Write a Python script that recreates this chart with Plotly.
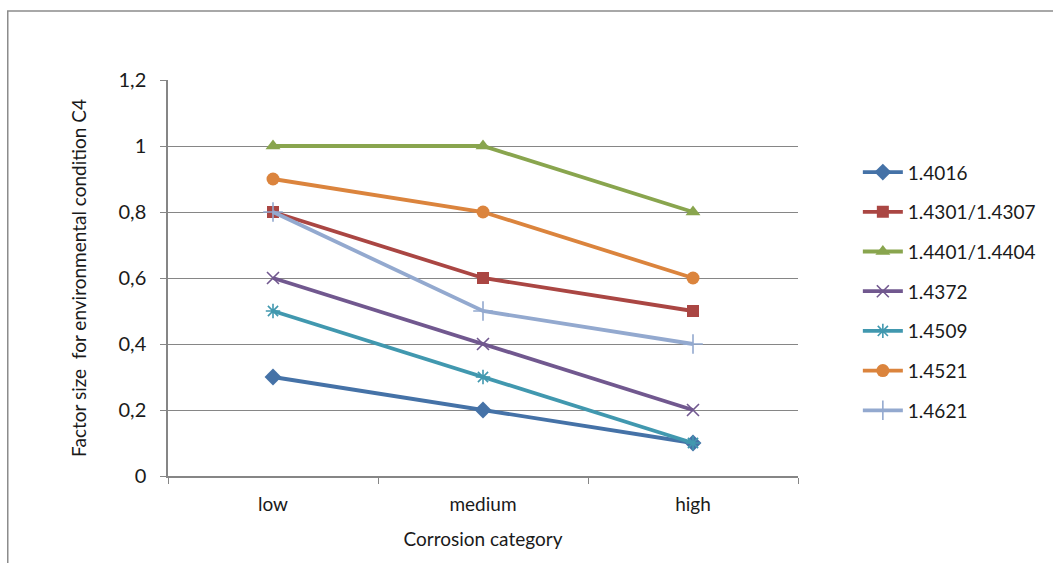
import plotly.graph_objects as go

categories = ["low", "medium", "high"]
series_names = ["1.4016", "1.4301/1.4307", "1.4401/1.4404", "1.4372", "1.4509", "1.4521", "1.4621"]
v_14016 = [0.3, 0.2, 0.1]
v_14301 = [0.8, 0.6, 0.5]
v_14401 = [1.0, 1.0, 0.8]
v_14372 = [0.6, 0.4, 0.2]
v_14509 = [0.5, 0.3, 0.1]
v_14521 = [0.9, 0.8, 0.6]
v_14621 = [0.8, 0.5, 0.4]
y_ticks = [0, 0.2, 0.4, 0.6, 0.8, 1.0, 1.2]
y_labels = ["0", "0,2", "0,4", "0,6", "0,8", "1", "1,2"]

values = [v_14016, v_14301, v_14401, v_14372, v_14509, v_14521, v_14621]
colors = ["#4572A7", "#AA4643", "#89A54E", "#71588F", "#4198AF", "#DB843D", "#93A9CF"]
markers = [
    dict(symbol="diamond", size=13),
    dict(symbol="square", size=12),
    dict(symbol="triangle-up", size=13),
    dict(symbol="x-thin-open", size=12, line=dict(width=1.6)),
    dict(symbol="asterisk-open", size=12, line=dict(width=1.6)),
    dict(symbol="circle", size=13),
    dict(symbol="cross-thin-open", size=14, line=dict(width=1.6)),
]

FONT = "Lato, 'Open Sans', sans-serif"
TXT = "#1a1a1a"

fig = go.Figure()
for name, vals, col, mk in zip(series_names, values, colors, markers):
    m = dict(mk, color=col)
    if "line" in m:
        m["line"] = dict(m["line"], color=col)
    fig.add_trace(go.Scatter(
        x=categories, y=vals, name=name, mode="lines+markers",
        line=dict(color=col, width=3.8), marker=m, legendgroup=name,
    ))

fig.update_layout(
    width=1053, height=563,
    margin=dict(l=168, r=252, t=80, b=87),
    plot_bgcolor="white", paper_bgcolor="white",
    font=dict(family=FONT, size=19, color=TXT),
    showlegend=True,
    legend=dict(
        x=1.095, xanchor="left", y=0.815, yanchor="top",
        font=dict(size=19, family=FONT, color=TXT),
        tracegroupgap=12, itemwidth=40, bgcolor="rgba(0,0,0,0)",
    ),
    xaxis=dict(
        type="category", range=[-0.5, 2.5],
        showline=True, linecolor="#868686", linewidth=1.5,
        ticks="outside", tickson="boundaries", ticklen=6, tickcolor="#868686",
        showgrid=False, ticklabelstandoff=10,
        title=dict(text="Corrosion category", font=dict(size=19, family=FONT, color=TXT), standoff=19),
        tickfont=dict(size=19, family=FONT, color=TXT),
    ),
    yaxis=dict(
        range=[0, 1.2], tickvals=y_ticks, ticktext=y_labels,
        showline=True, linecolor="#868686", linewidth=1.5,
        ticks="outside", ticklen=6, tickcolor="#868686",
        showgrid=True, gridcolor="#868686", gridwidth=1,
        zeroline=False, ticklabelstandoff=10,
        title=dict(text="Factor size  for environmental condition C4", font=dict(size=19, family=FONT, color=TXT), standoff=27),
        tickfont=dict(size=20, family=FONT, color=TXT),
    ),
    shapes=[dict(
        type="rect", xref="paper", yref="paper",
        x0=(7 - 168) / 633, x1=(1060 - 168) / 633,
        y0=-(570 - 476) / 396, y1=(476 - 11) / 396,
        line=dict(color="#8c8c8c", width=1.5), fillcolor="rgba(0,0,0,0)", layer="below",
    )],
)

fig.write_html("out.html")
